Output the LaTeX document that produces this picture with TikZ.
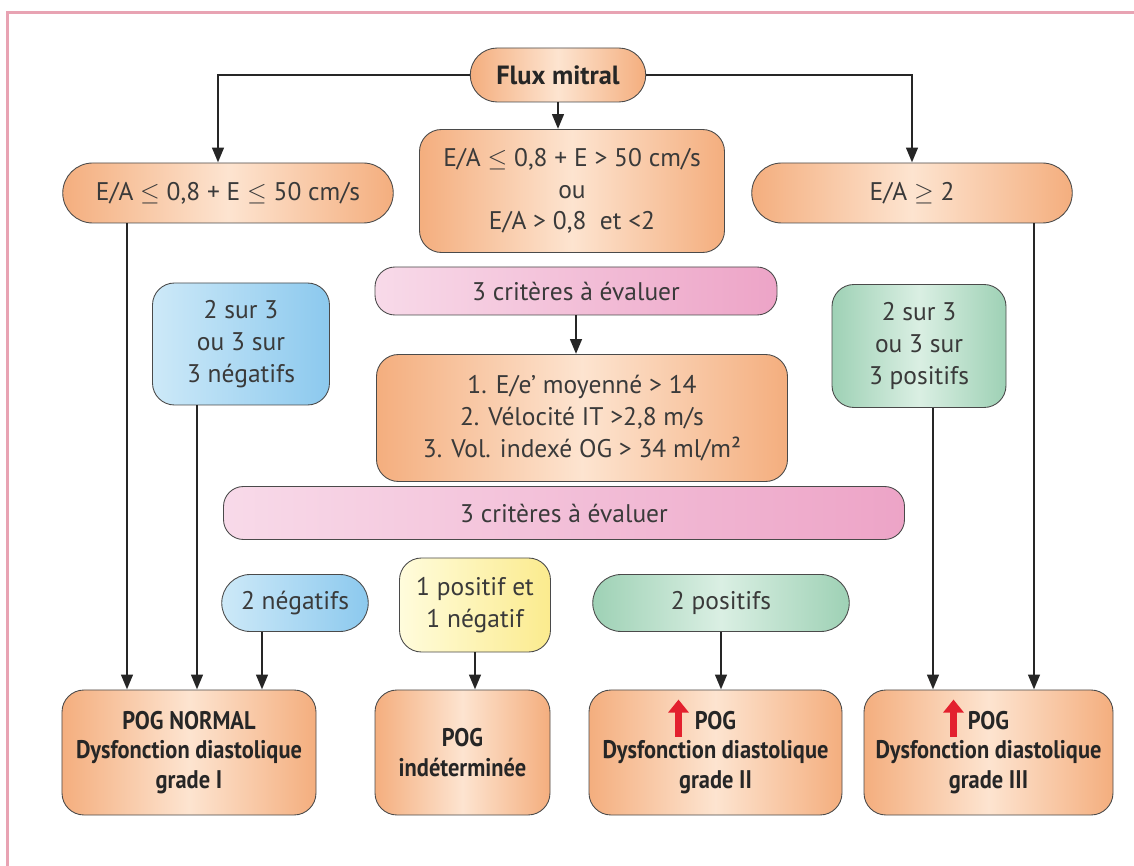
\documentclass[tikz,border=0pt]{standalone}
\usepackage{fontspec}
\setmainfont{PT Sans}
\newfontfamily\pogfont{PT Sans}[FakeStretch=0.88]
\usetikzlibrary{positioning,calc,arrows.meta,shapes.misc}

\definecolor{orA}{HTML}{F4AE7E}
\definecolor{orB}{HTML}{FDE4D0}
\definecolor{pkA}{HTML}{F8DAE9}
\definecolor{pkB}{HTML}{EDA4C7}
\definecolor{blA}{HTML}{CDE9F8}
\definecolor{blB}{HTML}{8CC9EE}
\definecolor{grA}{HTML}{9ED1B5}
\definecolor{grB}{HTML}{DAEFE3}
\definecolor{ylA}{HTML}{FFFCDC}
\definecolor{ylB}{HTML}{FBEB8E}
\definecolor{edgegray}{HTML}{4A4A4A}
\definecolor{txt}{HTML}{3A3A3A}
\definecolor{framepink}{HTML}{E8A3B3}
\definecolor{arrred}{HTML}{E3202E}

\begin{document}
\begin{tikzpicture}[x=0.2mm, y=-0.2mm,
    base/.style={draw=edgegray, line width=0.5pt, align=center, text=txt,
        inner sep=1pt, font=\fontsize{14.5}{18}\selectfont},
    bold/.style={font=\pogfont\fontsize{14.5}{16.7}\selectfont\bfseries, text=black!85},
    orpill/.style={base, rounded rectangle, left color=orA, right color=orA, middle color=orB},
    orbox/.style={base, rounded corners=4.4mm, left color=orA, right color=orA, middle color=orB},
    pkbar/.style={base, rounded corners=4mm, left color=pkA, right color=pkB},
    blbox/.style={base, rounded corners=4.4mm, left color=blA, right color=blB},
    grbox/.style={base, rounded corners=4.4mm, left color=grA, right color=grA, middle color=grB},
    ylbox/.style={base, rounded corners=4.4mm, left color=ylA, right color=ylB},
    arr/.style={-{Triangle[length=3mm,width=2.3mm]}, line width=1.6pt, draw=black!85},
    uparr/.style={-{Triangle[length=2.6mm,width=4mm]}, line width=1.4mm, draw=arrred},
    frame/.style={draw=framepink, line width=0.6mm}
]
    \useasboundingbox (0,0) rectangle (1134,866);
    \draw[frame] (7,866) -- (7,13) -- (1134,13);

    % First level
    \node[orpill, font=\fontsize{15}{18}\selectfont\bfseries, text=black!85,
        minimum width=35.8mm, minimum height=10.8mm] (flux) at (558,75) {Flux mitral};
    \node[orpill, minimum width=66.8mm, minimum height=12mm] (eaL) at (228,193)
        {E/A $\leq$ 0,8 + E $\leq$ 50 cm/s};
    \node[orbox, minimum width=61mm, minimum height=24.6mm] (eaM) at (572,191)
        {E/A $\leq$ 0,8 + E > 50 cm/s\\ou\\E/A > 0,8~~et <2};
    \node[orpill, minimum width=64.8mm, minimum height=12mm] (eaR) at (912,193) {E/A $\geq$ 2};

    % Criteria
    \node[pkbar, minimum width=80.4mm, minimum height=9.6mm] (crit1) at (576,291) {3 critères à évaluer};
    \node[orbox, minimum width=82.2mm, minimum height=25.4mm] (crit) at (582,418)
        {1. E/e’ moyenné > 14\\2. Vélocité IT >2,8 m/s\\3. Vol. indexé OG > 34 ml/m²};
    \node[pkbar, minimum width=136.2mm, minimum height=10.6mm] (crit2) at (564,513) {3 critères à évaluer};

    \node[blbox, minimum width=35.4mm, minimum height=24.4mm] (negA) at (241,344) {2 sur 3\\ou 3 sur\\3 négatifs};
    \node[grbox, minimum width=34.8mm, minimum height=24.6mm] (posA) at (919,346) {2 sur 3\\ou 3 sur\\3 positifs};

    % Results of the second evaluation
    \node[base, rounded rectangle, left color=blA, right color=blB,
        minimum width=30mm, minimum height=11.4mm] (negB) at (295,603) {2 négatifs};
    \node[ylbox, minimum width=30.2mm, minimum height=18.8mm] (mix) at (475,605) {1 positif et\\1 négatif};
    \node[base, rounded rectangle, left color=grA, right color=grA, middle color=grB,
        minimum width=52mm, minimum height=11.4mm] (posB) at (721,603) {2 positifs};

    % POG
    \node[orbox, bold, minimum width=50.8mm, minimum height=25mm] (pogA) at (189,752.5)
        {POG NORMAL\\Dysfonction diastolique\\grade I};
    \node[orbox, bold, minimum width=35mm, minimum height=25mm] (pogB) at (462.5,752.5)
        {POG\\indéterminée};
    \node[orbox, bold, minimum width=50.6mm, minimum height=25mm] (pogC) at (715.5,752.5)
        {POG\\Dysfonction diastolique\\grade II};
    \node[orbox, bold, minimum width=49.8mm, minimum height=25mm] (pogD) at (988.5,752.5)
        {POG\\Dysfonction diastolique\\grade III};

    \draw[uparr] ([xshift=-7.4mm,yshift=-9.4mm]pogC.north) -- ([xshift=-7.4mm,yshift=-2mm]pogC.north);
    \draw[uparr] ([xshift=-7mm,yshift=-9.4mm]pogD.north) -- ([xshift=-7mm,yshift=-2mm]pogD.north);

    % Connectors
    \draw[arr] (flux.west) -| ([xshift=-2mm]eaL.north);
    \draw[arr] (flux.east) -| (eaR.north);
    \draw[arr] (flux.south) -- (flux.south |- eaM.north);
    \draw[arr] (crit1.south) -- (crit1.south |- crit.north);

    \coordinate (sL) at ([xshift=-20.2mm]eaL.south);
    \coordinate (sNa) at ([xshift=-8.8mm]negA.south);
    \coordinate (sNb) at ([xshift=-6.6mm]negB.south);
    \coordinate (sPa) at ([xshift=2.8mm]posA.south);
    \coordinate (sR) at ([xshift=24.4mm]eaR.south);

    \draw[arr] (sL) -- (sL |- pogA.north);
    \draw[arr] (sNa) -- (sNa |- pogA.north);
    \draw[arr] (sNb) -- (sNb |- pogA.north);
    \draw[arr] (mix.south) -- (mix.south |- pogB.north);
    \draw[arr] (posB.south) -- (posB.south |- pogC.north);
    \draw[arr] (sPa) -- (sPa |- pogD.north);
    \draw[arr] (sR) -- (sR |- pogD.north);
\end{tikzpicture}
\end{document}
